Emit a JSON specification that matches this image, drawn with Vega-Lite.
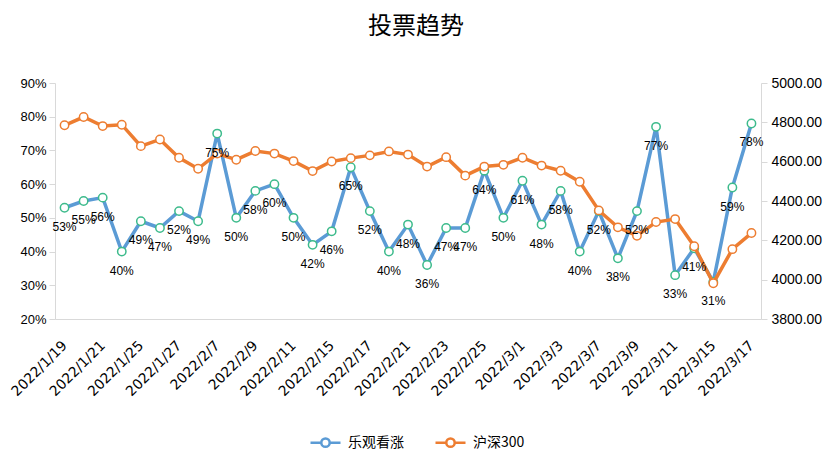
{
  "$schema": "https://vega.github.io/schema/vega-lite/v6.json",
  "width": 706,
  "height": 236,
  "autosize": {"type": "none"},
  "padding": {"left": 55, "top": 83, "right": 72, "bottom": 147},
  "background": "white",
  "title": {"text": "投票趋势", "font": "Noto Sans CJK SC", "fontSize": 24, "fontWeight": "normal", "color": "#000000", "anchor": "middle", "frame": "group", "offset": 37, "dx": 8},
  "config": {
    "view": {"stroke": null},
    "axis": {"labelFont": "Liberation Sans", "labelFontSize": 13, "labelColor": "#000000", "domainColor": "#D9D9D9", "tickColor": "#D9D9D9", "grid": false, "title": null},
    "legend": {"labelFont": "Noto Sans CJK SC", "labelFontSize": 14, "labelColor": "#000000"}
  },
  "data": {"values": [
    {"date": "2022/1/19", "p": 0.53, "h": 4785},
    {"date": "2022/1/20", "p": 0.55, "h": 4827},
    {"date": "2022/1/21", "p": 0.56, "h": 4781},
    {"date": "2022/1/24", "p": 0.40, "h": 4788},
    {"date": "2022/1/25", "p": 0.49, "h": 4679},
    {"date": "2022/1/26", "p": 0.47, "h": 4713},
    {"date": "2022/1/27", "p": 0.52, "h": 4620},
    {"date": "2022/1/28", "p": 0.49, "h": 4564},
    {"date": "2022/2/7", "p": 0.75, "h": 4641},
    {"date": "2022/2/8", "p": 0.50, "h": 4610},
    {"date": "2022/2/9", "p": 0.58, "h": 4654},
    {"date": "2022/2/10", "p": 0.60, "h": 4641},
    {"date": "2022/2/11", "p": 0.50, "h": 4603},
    {"date": "2022/2/14", "p": 0.42, "h": 4552},
    {"date": "2022/2/15", "p": 0.46, "h": 4601},
    {"date": "2022/2/16", "p": 0.65, "h": 4618},
    {"date": "2022/2/17", "p": 0.52, "h": 4632},
    {"date": "2022/2/18", "p": 0.40, "h": 4652},
    {"date": "2022/2/21", "p": 0.48, "h": 4636},
    {"date": "2022/2/22", "p": 0.36, "h": 4575},
    {"date": "2022/2/23", "p": 0.47, "h": 4623},
    {"date": "2022/2/24", "p": 0.47, "h": 4529},
    {"date": "2022/2/25", "p": 0.64, "h": 4575},
    {"date": "2022/2/28", "p": 0.50, "h": 4584},
    {"date": "2022/3/1", "p": 0.61, "h": 4620},
    {"date": "2022/3/2", "p": 0.48, "h": 4580},
    {"date": "2022/3/3", "p": 0.58, "h": 4554},
    {"date": "2022/3/4", "p": 0.40, "h": 4498},
    {"date": "2022/3/7", "p": 0.52, "h": 4352},
    {"date": "2022/3/8", "p": 0.38, "h": 4266},
    {"date": "2022/3/9", "p": 0.52, "h": 4223},
    {"date": "2022/3/10", "p": 0.77, "h": 4293},
    {"date": "2022/3/11", "p": 0.33, "h": 4308},
    {"date": "2022/3/14", "p": 0.41, "h": 4170},
    {"date": "2022/3/15", "p": 0.31, "h": 3982},
    {"date": "2022/3/16", "p": 0.59, "h": 4155},
    {"date": "2022/3/17", "p": 0.78, "h": 4237}
  ]},
  "encoding": {
    "x": {"field": "date", "type": "ordinal", "sort": null, "scale": {"type": "point", "padding": 0.5},
      "axis": {"values": ["2022/1/19","2022/1/21","2022/1/25","2022/1/27","2022/2/7","2022/2/9","2022/2/11","2022/2/15","2022/2/17","2022/2/21","2022/2/23","2022/2/25","2022/3/1","2022/3/3","2022/3/7","2022/3/9","2022/3/11","2022/3/15","2022/3/17"],
        "labelAngle": -45, "labelAlign": "right", "labelBaseline": "middle", "ticks": false, "labelPadding": 24, "labelFont": "DejaVu Sans", "labelFontSize": 14}}
  },
  "layer": [
    {
      "encoding": {
        "y": {"field": "p", "type": "quantitative", "scale": {"domain": [0.2, 0.9], "nice": false, "zero": false},
          "axis": {"orient": "left", "values": [0.2,0.3,0.4,0.5,0.6,0.7,0.8,0.9], "format": ".0%", "tickSize": 6, "labelPadding": 3}}
      },
      "layer": [
        {"mark": {"type": "line", "strokeWidth": 3.5},
          "encoding": {"color": {"datum": "乐观看涨", "type": "nominal",
            "scale": {"domain": ["乐观看涨", "沪深300"], "range": ["#5B9BD5", "#ED7D31"]},
            "legend": {"title": null, "orient": "none", "legendX": 254, "legendY": 343, "direction": "horizontal",
              "symbolType": "M-1,0H-0.28M0.28,0H1M-0.28,0A0.28,0.28 0 1 1 0.28,0A0.28,0.28 0 1 1 -0.28,0",
              "symbolSize": 900, "symbolStrokeWidth": 2.5, "symbolFillColor": "white", "labelOffset": 6, "columnPadding": 26}}}},
        {"mark": {"type": "point", "shape": "circle", "filled": true, "fill": "white", "stroke": "#3DBB8C", "strokeWidth": 1.5, "size": 70, "opacity": 1}}
      ]
    },
    {
      "encoding": {
        "y": {"field": "h", "type": "quantitative", "scale": {"domain": [3800, 5000], "nice": false, "zero": false},
          "axis": {"orient": "right", "values": [3800,4000,4200,4400,4600,4800,5000], "format": ".2f", "tickSize": 6, "labelPadding": 4, "labelFontSize": 14}}
      },
      "layer": [
        {"mark": {"type": "line", "strokeWidth": 3.5},
          "encoding": {"color": {"datum": "沪深300", "type": "nominal",
            "scale": {"domain": ["乐观看涨", "沪深300"], "range": ["#5B9BD5", "#ED7D31"]}}}},
        {"mark": {"type": "point", "shape": "circle", "filled": true, "fill": "white", "stroke": "#ED7D31", "strokeWidth": 1.5, "size": 70, "opacity": 1}}
      ]
    },
    {
      "mark": {"type": "text", "dy": 19, "font": "Liberation Sans", "fontSize": 12, "color": "#000000"},
      "encoding": {
        "y": {"field": "p", "type": "quantitative", "scale": {"domain": [0.2, 0.9], "nice": false, "zero": false}, "axis": null},
        "text": {"field": "p", "format": ".0%"}
      }
    }
  ],
  "resolve": {"scale": {"y": "independent"}}
}
